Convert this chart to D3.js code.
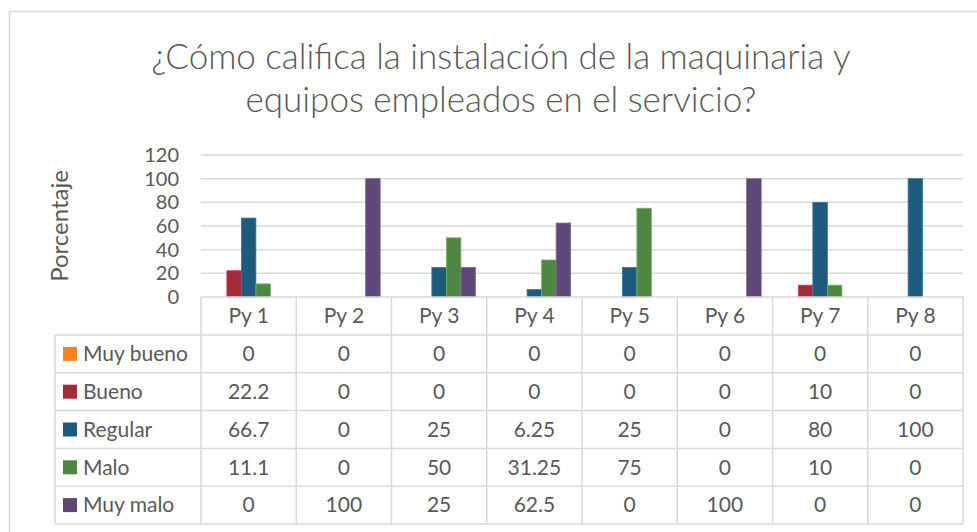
<!DOCTYPE html>
<html lang="es">
<head>
<meta charset="utf-8">
<title>Maquinaria y equipos</title>
<script src="https://d3js.org/d3.v7.min.js"></script>
<style>
  body { margin: 0; background: #fff; }
  svg text { font-family: Lato, "Open Sans", sans-serif; fill: #595959; }
</style>
</head>
<body>
<script>
// data
var projects = ["Py 1", "Py 2", "Py 3", "Py 4", "Py 5", "Py 6", "Py 7", "Py 8"];
var seriesNames = ["Muy bueno", "Bueno", "Regular", "Malo", "Muy malo"];
var muyBueno = [0, 0, 0, 0, 0, 0, 0, 0];
var bueno    = [22.2, 0, 0, 0, 0, 0, 10, 0];
var regular  = [66.7, 0, 25, 6.25, 25, 0, 80, 100];
var malo     = [11.1, 0, 50, 31.25, 75, 0, 10, 0];
var muyMalo  = [0, 100, 25, 62.5, 0, 100, 0, 0];
var yTicks = [0, 20, 40, 60, 80, 100, 120];
var colors = ["#f4821f", "#a22b38", "#1e5a7d", "#4f8742", "#5f4877"];

var values = [muyBueno, bueno, regular, malo, muyMalo];

var width = 977, height = 532;
var plotLeft = 201, plotRight = 963, plotTop = 155, base = 297;
var rowTop = 335, rowBottom = 524, labelLeft = 55;
var grid = "#d9d9d9";

var svg = d3.select("body").append("svg")
  .attr("width", width)
  .attr("height", height);

// outer chart border (right and bottom fall outside the picture)
svg.append("rect")
  .attr("x", 9.5).attr("y", 11.5)
  .attr("width", 1000).attr("height", 600)
  .attr("fill", "none").attr("stroke", grid).attr("stroke-width", 1.5);

// title
var title = svg.append("text")
  .attr("text-anchor", "middle")
  .style("font-size", "35px")
  .style("font-weight", 300);
title.append("tspan").attr("x", 501).attr("y", 69)
  .text("¿Cómo califica la instalación de la maquinaria y");
title.append("tspan").attr("x", 501).attr("y", 112)
  .text("equipos empleados en el servicio?");

var x = d3.scaleBand().domain(projects).range([plotLeft, plotRight]);
var xs = d3.scaleBand().domain(seriesNames).range([0, x.bandwidth()])
  .paddingInner(0).paddingOuter(0.78);
var y = d3.scaleLinear().domain([0, 120]).range([base, plotTop]);

// gridlines
svg.append("g").selectAll("line")
  .data(yTicks.filter(function(d) { return d > 0; }))
  .enter().append("line")
    .attr("x1", plotLeft).attr("x2", plotRight)
    .attr("y1", function(d) { return y(d); })
    .attr("y2", function(d) { return y(d); })
    .attr("stroke", grid).attr("stroke-width", 1.5);

// y tick labels
svg.append("g").selectAll("text")
  .data(yTicks)
  .enter().append("text")
    .attr("x", 179)
    .attr("y", function(d) { return y(d); })
    .attr("dy", "0.35em")
    .attr("text-anchor", "end")
    .style("font-size", "20px")
    .text(function(d) { return d; });

// y axis title
svg.append("text")
  .attr("transform", "translate(68,226) rotate(-90)")
  .attr("text-anchor", "middle")
  .style("font-size", "24px")
  .text("Porcentaje");

// bars
seriesNames.forEach(function(name, i) {
  svg.append("g").selectAll("rect")
    .data(values[i])
    .enter().append("rect")
      .attr("x", function(d, j) { return x(projects[j]) + xs(name); })
      .attr("y", function(d) { return y(d); })
      .attr("width", xs.bandwidth())
      .attr("height", function(d) { return base - y(d); })
      .attr("fill", colors[i])
      .attr("stroke", d3.color(colors[i]).brighter(0.9))
      .attr("stroke-width", 0.8)
      .style("display", function(d) { return d > 0 ? null : "none"; });
});

// data table
var rowH = (rowBottom - rowTop) / seriesNames.length;
var table = svg.append("g")
  .attr("fill", "none").attr("stroke", grid).attr("stroke-width", 1.5);

table.append("line").attr("x1", plotLeft).attr("x2", plotRight).attr("y1", base).attr("y2", base);
d3.range(seriesNames.length + 1).forEach(function(r) {
  table.append("line")
    .attr("x1", labelLeft).attr("x2", plotRight)
    .attr("y1", rowTop + r * rowH).attr("y2", rowTop + r * rowH);
});
table.append("line").attr("x1", labelLeft).attr("x2", labelLeft).attr("y1", rowTop).attr("y2", rowBottom);
projects.concat([null]).forEach(function(p) {
  var xx = p ? x(p) : plotRight;
  table.append("line").attr("x1", xx).attr("x2", xx).attr("y1", base).attr("y2", rowBottom);
});

// header labels
svg.append("g").selectAll("text")
  .data(projects)
  .enter().append("text")
    .attr("x", function(d) { return x(d) + x.bandwidth() / 2; })
    .attr("y", (base + rowTop) / 2)
    .attr("dy", "0.35em")
    .attr("text-anchor", "middle")
    .style("font-size", "21px")
    .text(function(d) { return d; });

// rows: legend key, name, values
seriesNames.forEach(function(name, i) {
  var cy = rowTop + (i + 0.5) * rowH;
  var row = svg.append("g");
  row.append("rect")
    .attr("x", 63).attr("y", cy - 7)
    .attr("width", 14).attr("height", 14)
    .attr("fill", colors[i]);
  row.append("text")
    .attr("x", 83).attr("y", cy).attr("dy", "0.35em")
    .style("font-size", "21px")
    .text(name);
  row.selectAll("text.v")
    .data(values[i])
    .enter().append("text")
      .attr("class", "v")
      .attr("x", function(d, j) { return x(projects[j]) + x.bandwidth() / 2; })
      .attr("y", cy).attr("dy", "0.35em")
      .attr("text-anchor", "middle")
      .style("font-size", "21px")
      .text(function(d) { return d; });
});
</script>
</body>
</html>
